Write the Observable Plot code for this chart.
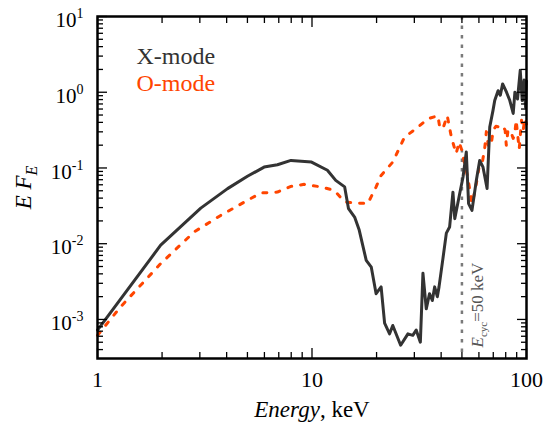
<!DOCTYPE html>
<html><head><meta charset="utf-8">
<script src="https://cdn.jsdelivr.net/npm/d3@7"></script>
<script src="https://cdn.jsdelivr.net/npm/@observablehq/plot@0.6"></script>
<style>
body{margin:0;background:#fff}
svg{display:block}
svg text, svg tspan{font-family:"Liberation Serif","Times New Roman",serif;}
</style>
</head><body><div id="chart"></div>
<script>
// X-mode spectrum: energy (keV) and log10(E F_E)
const xModeE = [1, 1.97, 3.03, 4.04, 5.0, 5.98, 6.9, 7.98, 9.95, 11.8, 12.9, 14.2, 14.8, 15.8, 16.6, 17.9, 18.9, 19.9, 21.0, 21.8, 23.0, 23.8, 25.9, 28.0, 29.5, 30.6, 32.0, 32.9, 34.1, 35.3, 36.4, 37.3, 38.4, 39.1, 40.8, 42.3, 43.8, 45.4, 46.3, 48.8, 50.6, 52.4, 53.7, 55.7, 58.4, 60.5, 62.7, 65.5, 67.4, 69.8, 71.1, 73.7, 75.5, 77.4, 80.7, 83.6, 86.7, 88.3, 90.8, 93.5, 95.5, 97.5, 99, 100];
const xModeLogF = [-3.14, -2.02, -1.53, -1.273, -1.11, -0.988, -0.957, -0.90, -0.922, -1.03, -1.164, -1.25, -1.537, -1.648, -1.82, -2.22, -2.31, -2.66, -2.57, -3.05, -3.19, -3.08, -3.34, -3.19, -3.21, -3.14, -3.30, -2.39, -2.86, -2.66, -2.75, -2.57, -2.70, -2.57, -2.19, -1.86, -1.78, -1.32, -1.67, -1.34, -1.12, -0.79, -1.47, -1.56, -1.16, -0.90, -0.99, -1.27, -0.46, -0.24, -0.11, 0.02, -0.04, 0.11, 0.0, -0.11, -0.28, 0.0, -0.09, 0.29, -0.11, 0.16, -0.2, 0.15];
// O-mode spectrum
const oModeE = [1, 1.28, 1.97, 2.82, 3.76, 5.0, 5.78, 6.9, 7.98, 9.2, 11.0, 12.7, 14.2, 16.3, 18.2, 19.9, 21.0, 23.8, 27.0, 30.6, 34.7, 38.6, 39.5, 41.0, 42.7, 44.7, 47.0, 48.5, 50.0, 51.5, 53.0, 54.5, 55.5, 56.5, 58.0, 60.0, 62.0, 63.8, 65.0, 66.5, 68.5, 70.0, 72.0, 75.0, 77.4, 79.5, 80.5, 82.0, 84.5, 86.7, 88.3, 89.5, 91.0, 92.5, 94.8, 96.5, 98.3, 100];
const oModeLogF = [-3.21, -2.835, -2.263, -1.845, -1.625, -1.427, -1.33, -1.318, -1.243, -1.216, -1.25, -1.296, -1.45, -1.463, -1.47, -1.25, -1.098, -0.922, -0.592, -0.48, -0.35, -0.31, -0.48, -0.46, -0.31, -0.60, -0.81, -0.66, -0.77, -0.95, -1.10, -1.30, -1.47, -1.40, -1.25, -1.0, -0.95, -0.75, -0.52, -0.72, -0.68, -0.50, -0.45, -0.46, -0.44, -0.50, -0.70, -0.50, -0.52, -0.61, -0.53, -0.37, -0.57, -0.75, -0.37, -0.50, -0.35, -0.42];

const xMajor = [1, 10, 100];
const xMinor = [2, 3, 4, 5, 6, 7, 8, 9, 20, 30, 40, 50, 60, 70, 80, 90];
const yMajor = [1e-3, 1e-2, 1e-1, 1, 10];
const yMinor = [4e-4, 5e-4, 6e-4, 7e-4, 8e-4, 9e-4,
  2e-3, 3e-3, 4e-3, 5e-3, 6e-3, 7e-3, 8e-3, 9e-3,
  2e-2, 3e-2, 4e-2, 5e-2, 6e-2, 7e-2, 8e-2, 9e-2,
  0.2, 0.3, 0.4, 0.5, 0.6, 0.7, 0.8, 0.9,
  2, 3, 4, 5, 6, 7, 8, 9];
const legendLabels = ["X-mode", "O-mode"];
const cycEnergy = 50;
const cycLabel = "Ecyc=50 keV";
const xLabel = "Energy, keV";
const yLabel = "E FE";

const xData = xModeE.map((E, i) => ({E, F: 10 ** xModeLogF[i]}));
const oData = oModeE.map((E, i) => ({E, F: 10 ** oModeLogF[i]}));

const SERIF = "Liberation Serif";
const tickStyle = {fill: "none", label: null, stroke: "#000", strokeWidth: 1.3};
const MAJ = 10, MIN = 6;

const chart = Plot.plot({
  width: 557, height: 428,
  marginLeft: 97, marginRight: 31, marginTop: 16, marginBottom: 70,
  style: {background: "#fff", color: "#000", fontFamily: SERIF},
  x: {type: "log", domain: [1, 100]},
  y: {type: "log", domain: [3.05e-4, 10]},
  marks: [
    Plot.ruleX([cycEnergy], {x: d => d, stroke: "#7a7a7a", strokeWidth: 2.5, strokeDasharray: "3.5,6"}),
    Plot.line(oData, {x: "E", y: "F", stroke: "#ff4500", strokeWidth: 3, strokeDasharray: "4,9", strokeLinecap: "round"}),
    Plot.line(xData, {x: "E", y: "F", stroke: "#333", strokeWidth: 3, strokeLinejoin: "round"}),
    // inward ticks on all four sides
    Plot.axisX(xMajor, {anchor: "bottom", tickSize: MAJ, dy: -MAJ, ...tickStyle}),
    Plot.axisX(xMinor, {anchor: "bottom", tickSize: MIN, dy: -MIN, ...tickStyle}),
    Plot.axisX(xMajor, {anchor: "top", tickSize: MAJ, dy: MAJ, ...tickStyle}),
    Plot.axisX(xMinor, {anchor: "top", tickSize: MIN, dy: MIN, ...tickStyle}),
    Plot.axisY(yMajor, {anchor: "left", tickSize: MAJ, dx: MAJ, ...tickStyle}),
    Plot.axisY(yMinor, {anchor: "left", tickSize: MIN, dx: MIN, ...tickStyle}),
    Plot.axisY(yMajor, {anchor: "right", tickSize: MAJ, dx: -MAJ, ...tickStyle}),
    Plot.axisY(yMinor, {anchor: "right", tickSize: MIN, dx: -MIN, ...tickStyle}),
    // tick labels
    Plot.axisX(xMajor, {anchor: "bottom", tickSize: 0, tickPadding: 13, fontSize: 22, label: null, tickFormat: d => String(d), fill: "#000", fontFamily: SERIF}),
    Plot.axisY(yMajor, {anchor: "left", tickSize: 0, tickPadding: 14, fontSize: 21, label: null, dy: 4, fill: "#000", fontFamily: SERIF,
      tickFormat: d => "10^" + Math.round(Math.log10(d))}),
    // axis titles
    Plot.text([xLabel], {text: d => d, frameAnchor: "bottom", dy: 58, lineAnchor: "bottom", textAnchor: "middle", fontSize: 23, fill: "#000", fontFamily: SERIF}),
    Plot.text([yLabel], {text: d => d, frameAnchor: "left", dx: -67, rotate: -90, lineAnchor: "bottom", textAnchor: "middle", fontSize: 23, fill: "#000", fontFamily: SERIF}),
    // legend
    Plot.text([legendLabels[0]], {text: d => d, frameAnchor: "top-left", dx: 39, dy: 47, lineAnchor: "bottom", textAnchor: "start", fontSize: 24, fill: "#333", fontFamily: SERIF}),
    Plot.text([legendLabels[1]], {text: d => d, frameAnchor: "top-left", dx: 39, dy: 74, lineAnchor: "bottom", textAnchor: "start", fontSize: 24, fill: "#ff4500", fontFamily: SERIF}),
    // cyclotron energy label
    Plot.text([cycEnergy], {x: d => d, text: () => cycLabel, frameAnchor: "bottom", dx: 21, dy: -11, rotate: -90, lineAnchor: "bottom", textAnchor: "start", fontSize: 17, fill: "#555", fontFamily: SERIF}),
    Plot.frame({stroke: "#000", strokeWidth: 2.5})
  ]
});

document.getElementById("chart").appendChild(chart);

// rich text: superscripts, subscripts, italics
const svg = d3.select(chart);
svg.selectAll("text").each(function() {
  const el = d3.select(this);
  const t = this.textContent;
  let m;
  if ((m = t.match(/^10\^(.*)$/))) {
    el.text("");
    el.append("tspan").text("10");
    el.append("tspan").attr("dy", "-9").attr("font-size", "14").text(m[1]);
  } else if (t === xLabel) {
    el.text("");
    el.append("tspan").attr("font-style", "italic").text("Energy");
    el.append("tspan").text(", keV");
  } else if (t === yLabel) {
    el.text("");
    el.append("tspan").attr("font-style", "italic").text("E F");
    el.append("tspan").attr("font-style", "italic").attr("font-size", "16").attr("dy", "6").text("E");
  } else if (t === cycLabel) {
    el.text("");
    el.append("tspan").attr("font-style", "italic").text("E");
    el.append("tspan").attr("font-size", "11").attr("dy", "4").text("cyc");
    el.append("tspan").attr("dy", "-4").text("=50 keV");
  }
});
</script>
</body></html>
